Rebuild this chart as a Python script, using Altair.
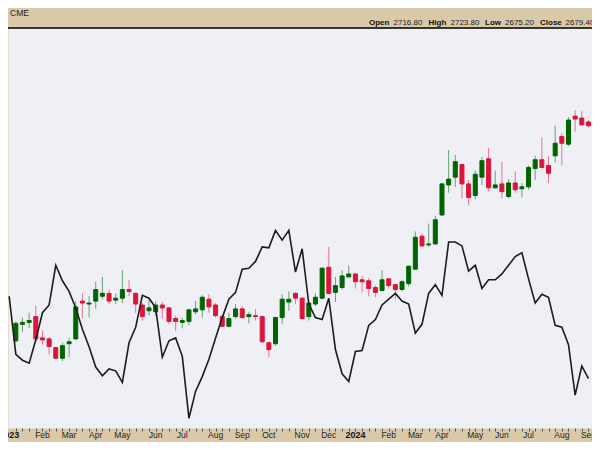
import altair as alt
import pandas as pd

# ---------------- data (weekly bars, week 0 = first week of Jan 2023) ----------------
weeks = list(range(1, 88))
opens = [1879.1, 1928.2, 1934.0, 1951.2, 1887.7, 1884.8, 1858.8, 1827.1, 1870.4, 1884.8,
         1997.5, 1988.8, 1997.5, 2011.9, 2020.6, 2000.4, 2006.2, 2032.1, 2020.6, 1985.9,
         1968.6, 1965.7, 1985.9, 1977.2, 1945.5, 1934.0, 1936.9, 1965.7, 1971.5, 2003.2,
         1985.9, 1951.2, 1922.4, 1951.2, 1974.3, 1951.2, 1954.1, 1951.2, 1873.3, 1870.4,
         1948.4, 1994.6, 2020.6, 2006.2, 1951.2, 1988.8, 2006.2, 2098.5, 2023.5, 2037.9,
         2069.7, 2078.4, 2061.0, 2058.1, 2037.9, 2029.2, 2063.9, 2046.6, 2032.1, 2049.5,
         2092.8, 2191.0, 2165.0, 2167.9, 2254.4, 2344.0, 2367.1, 2404.6, 2346.9, 2312.3,
         2367.1, 2422.0, 2335.4, 2346.9, 2309.4, 2349.8, 2332.5, 2338.2, 2393.1, 2419.1,
         2401.8, 2430.6, 2488.5, 2465.4, 2549.1, 2543.3, 2531.7]
highs = [1936.9, 1948.4, 1962.8, 1983.0, 1910.8, 1890.6, 1861.7, 1873.3, 1887.7, 1997.5,
         2020.6, 2011.9, 2055.2, 2069.7, 2032.1, 2020.6, 2089.9, 2061.0, 2023.5, 1991.7,
         2003.2, 1997.5, 1994.6, 1980.1, 1954.1, 1948.4, 1974.3, 1997.5, 2014.8, 2017.7,
         1991.7, 1957.0, 1962.8, 1988.8, 1983.0, 1965.7, 1974.3, 1954.1, 1876.2, 1951.2,
         2017.7, 2026.3, 2023.5, 2009.0, 1994.6, 2020.6, 2098.5, 2159.2, 2069.7, 2089.9,
         2104.3, 2081.2, 2072.6, 2066.8, 2043.7, 2089.9, 2066.8, 2049.5, 2061.0, 2104.3,
         2205.4, 2199.6, 2228.5, 2251.6, 2349.8, 2448.0, 2433.5, 2407.5, 2358.5, 2387.3,
         2427.8, 2453.8, 2387.3, 2413.3, 2361.3, 2384.5, 2349.8, 2401.8, 2430.6, 2485.6,
         2430.6, 2520.2, 2497.2, 2546.2, 2566.4, 2563.5, 2537.5]
lows = [1873.3, 1905.1, 1916.6, 1876.2, 1867.5, 1838.6, 1824.2, 1818.4, 1830.0, 1881.9,
        1945.5, 1948.4, 1974.3, 2003.2, 1988.8, 1988.8, 1991.7, 2011.9, 1962.8, 1939.7,
        1954.1, 1954.1, 1945.5, 1928.2, 1908.0, 1916.6, 1925.3, 1957.0, 1948.4, 1962.8,
        1948.4, 1919.5, 1919.5, 1945.5, 1945.5, 1931.1, 1939.7, 1873.3, 1830.0, 1864.6,
        1928.2, 1968.6, 1988.8, 1942.6, 1939.7, 1983.0, 2003.2, 2017.7, 1994.6, 2032.1,
        2066.8, 2035.0, 2023.5, 2011.9, 2009.0, 2026.3, 2035.0, 2003.2, 2026.3, 2040.8,
        2089.9, 2159.2, 2159.2, 2165.0, 2251.6, 2320.9, 2338.2, 2303.6, 2283.4, 2300.7,
        2344.0, 2323.8, 2332.5, 2303.6, 2303.6, 2320.9, 2306.5, 2329.6, 2358.5, 2393.1,
        2349.8, 2410.4, 2401.8, 2459.6, 2502.9, 2520.2, 2514.4]
closes = [1931.1, 1934.0, 1939.7, 1884.8, 1881.9, 1861.7, 1827.1, 1864.6, 1876.2, 1980.1,
          1991.7, 1991.7, 2032.1, 2020.6, 1997.5, 2006.2, 2032.1, 2026.3, 1988.8, 1951.2,
          1977.2, 1985.9, 1977.2, 1936.9, 1936.9, 1939.7, 1971.5, 1974.3, 2009.0, 1980.1,
          1954.1, 1922.4, 1945.5, 1974.3, 1948.4, 1957.0, 1951.2, 1876.2, 1853.0, 1948.4,
          2003.2, 2003.2, 2006.2, 1945.5, 1991.7, 2009.0, 2095.6, 2020.6, 2043.7, 2072.6,
          2078.4, 2055.2, 2055.2, 2035.0, 2023.5, 2061.0, 2043.7, 2032.1, 2055.2, 2101.4,
          2188.1, 2162.1, 2167.9, 2240.0, 2346.9, 2361.3, 2413.3, 2346.9, 2306.5, 2375.8,
          2416.2, 2335.4, 2344.0, 2323.8, 2349.8, 2329.6, 2338.2, 2396.0, 2419.1, 2396.0,
          2378.7, 2468.2, 2468.2, 2537.5, 2540.4, 2523.1, 2520.2]

line_weeks = list(range(0, 88))
line_values = [2011.9, 1838.6, 1821.3, 1812.6, 1882.0, 1962.8, 1985.9, 2104.3, 2058.1, 2026.4,
               1977.2, 1913.7, 1861.7, 1801.0, 1775.1, 1795.3, 1789.5, 1754.9, 1873.3, 1919.5,
               2014.8, 2006.1, 1977.2, 1830.0, 1879.1, 1887.7, 1832.8, 1648.0, 1728.9, 1772.2,
               1824.2, 1887.7, 1948.3, 2003.2, 2023.5, 2092.7, 2095.6, 2115.8, 2159.2, 2156.3,
               2208.3, 2179.4, 2208.3, 2084.1, 2153.4, 1988.8, 1948.3, 1942.6, 2006.1, 1853.1,
               1780.9, 1757.8, 1847.3, 1850.2, 1925.3, 1942.6, 1985.9, 2003.2, 2020.6, 1997.5,
               1988.8, 1902.2, 1928.2, 2020.6, 2046.6, 2014.8, 2173.6, 2173.6, 2162.1, 2087.0,
               2104.3, 2035.0, 2061.0, 2061.0, 2078.4, 2104.3, 2130.3, 2141.9, 2063.9, 1991.7,
               2017.7, 2009.0, 1925.3, 1919.5, 1867.5, 1717.3, 1804.0, 1766.4]

month_weeks = [0, 5, 9, 13, 17, 22, 26, 31, 35, 39, 44, 48, 52, 57, 61, 65, 70, 74, 78, 83, 87]
month_labels = ["2023", "Feb", "Mar", "Apr", "May", "Jun", "Jul", "Aug", "Sep", "Oct", "Nov",
                "Dec", "2024", "Feb", "Mar", "Apr", "May", "Jun", "Jul", "Aug", "Sep"]

exchange_label = "CME"
header_names = ["Open", "High", "Low", "Close"]
header_values = ["2716.80", "2723.80", "2675.20", "2679.40"]

# ---------------- layout / style ----------------
W, H = 584, 400
FONT = "Liberation Sans"
TAN = "#d9c9a9"
PLOT_BG = "#efeff6"
GREEN = "#006400"
RED = "#dc143c"

df = pd.DataFrame({"week": weeks, "open": opens, "high": highs, "low": lows, "close": closes})
df["dir"] = ["up" if c >= o else "down" for o, c in zip(opens, closes)]
ldf = pd.DataFrame({"week": line_weeks, "value": line_values})
mdf = pd.DataFrame({"week": month_weeks, "label": month_labels})
mdf["year"] = [lab.isdigit() for lab in month_labels]

xscale = alt.Scale(domain=[0.575, 86.78], nice=False, zero=False)
xaxis = alt.Axis(values=list(range(1, 88)), labels=False, ticks=True, tickSize=3,
                 tickColor="#555555", tickWidth=1, domain=False, grid=False, title=None)
X = alt.X("week:Q", scale=xscale, axis=xaxis)
yscale = alt.Scale(domain=[1619.1, 2811.9], nice=False, zero=False)
cscale = alt.Scale(domain=["up", "down"], range=[GREEN, RED])

wicks = alt.Chart(df).mark_rule(strokeWidth=1, opacity=0.55).encode(
    x=X,
    y=alt.Y("low:Q", scale=yscale, axis=None),
    y2="high:Q",
    color=alt.Color("dir:N", scale=cscale, legend=None),
)
bodies = alt.Chart(df).mark_bar(size=4, strokeWidth=1).encode(
    x=X,
    y=alt.Y("open:Q", scale=yscale, axis=None),
    y2="close:Q",
    color=alt.Color("dir:N", scale=cscale, legend=None),
    stroke=alt.Stroke("dir:N", scale=cscale, legend=None),
)
line = alt.Chart(ldf).mark_line(color="#1c1c1c", strokeWidth=1.6).encode(
    x=X, y=alt.Y("value:Q", scale=yscale, axis=None)
)

months = alt.Chart(mdf[~mdf["year"]]).mark_text(
    font=FONT, fontSize=8.5, color="#222222", align="center", baseline="middle"
).encode(x=X, y=alt.value(H + 7), text="label:N")
years = alt.Chart(mdf[mdf["year"]]).mark_text(
    font=FONT, fontSize=9, fontWeight="bold", color="#111111", align="center", baseline="middle"
).encode(x=X, y=alt.value(H + 7), text="label:N")

top_rule = alt.Chart(pd.DataFrame({"a": [0]})).mark_rule(color="#000000", strokeWidth=1.5).encode(
    x=alt.value(0), x2=alt.value(W), y=alt.value(0)
)

layers = [wicks, bodies, line, months, years, top_rule]

layers.append(
    alt.Chart(pd.DataFrame({"t": [exchange_label]})).mark_text(
        font=FONT, fontSize=8.5, color="#222222", align="left", baseline="middle"
    ).encode(x=alt.value(2), y=alt.value(-15), text="t:N")
)

name_x = [361, 420.5, 477, 532]
value_x = [385.5, 442.5, 497, 557.5]
for name, val, nx, vx in zip(header_names, header_values, name_x, value_x):
    layers.append(
        alt.Chart(pd.DataFrame({"t": [name]})).mark_text(
            font=FONT, fontSize=8, fontWeight="bold", color="#111111", align="left", baseline="middle"
        ).encode(x=alt.value(nx), y=alt.value(-5.5), text="t:N")
    )
    layers.append(
        alt.Chart(pd.DataFrame({"t": [val]})).mark_text(
            font=FONT, fontSize=8, color="#222222", align="left", baseline="middle"
        ).encode(x=alt.value(vx), y=alt.value(-5.5), text="t:N")
    )

chart = alt.layer(*layers).properties(
    width=W,
    height=H,
    autosize=alt.AutoSizeParams(type="none"),
    padding={"left": 0, "right": 0, "top": 20, "bottom": 14},
    background=TAN,
).configure_view(fill=PLOT_BG, stroke="transparent")

chart.save("out.html", embed_options={"renderer": "svg", "actions": False})
